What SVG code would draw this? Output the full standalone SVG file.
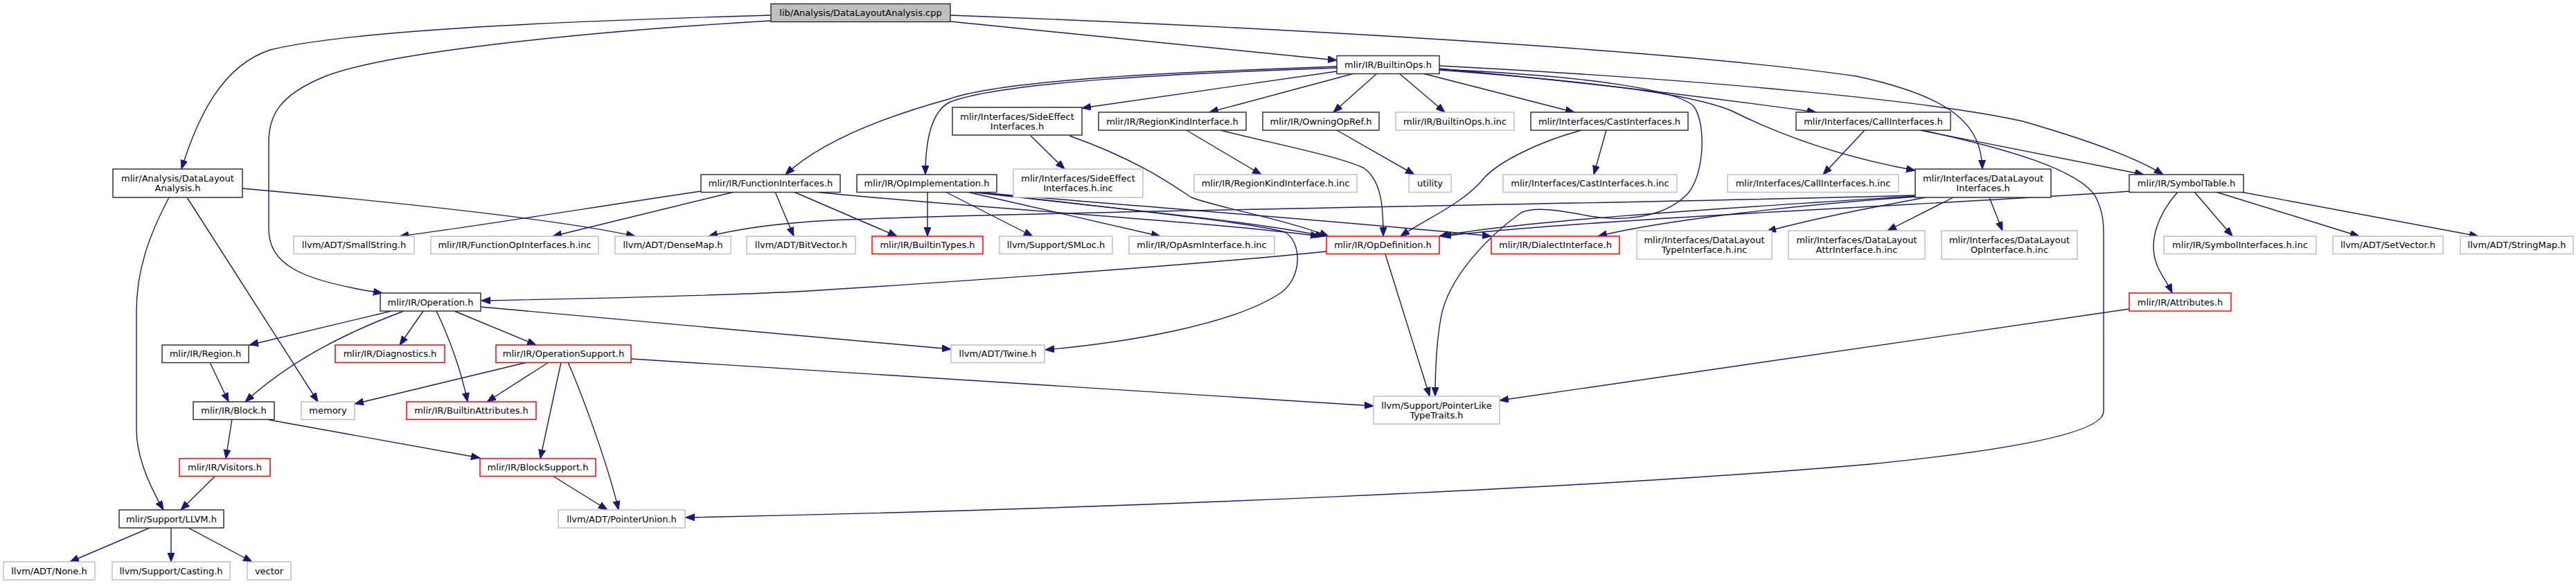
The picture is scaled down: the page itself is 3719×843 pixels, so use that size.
<svg xmlns="http://www.w3.org/2000/svg" width="3719" height="843" viewBox="0 0 3719 843">
<style>
text{font-family:"DejaVu Sans","Liberation Sans",sans-serif;font-size:13px;fill:#000;text-anchor:middle}
.k{fill:#fff;stroke:#333;stroke-width:1.5}
.g{fill:#fff;stroke:#bfbfbf;stroke-width:1.5}
.r{fill:#fff;stroke:#ff0000;stroke-width:1.5}
.root{fill:#bfbfbf;stroke:#333;stroke-width:1.5}
.e{fill:none;stroke:#191970;stroke-width:1.4;marker-end:url(#a)}
</style>
<defs>
<marker id="a" markerWidth="14" markerHeight="12" refX="13" refY="5" orient="auto" markerUnits="userSpaceOnUse"><path d="M0,0 L13,5 L0,10 z" fill="#191970" stroke="#191970" stroke-width="1"/></marker>
</defs>
<rect x="0" y="0" width="3719" height="843" fill="#fff"/>
<g id="edges">
<path class="e" d="M1113,22 C900,28 520,40 390,72 C320,95 285,170 262,244"/>
<path class="e" d="M1113,30 C850,45 560,75 470,110 C400,138 388,170 388,205 L388,330 C388,380 430,405 552,423"/>
<path class="e" d="M1372,31 L1930,87"/>
<path class="e" d="M1372,22 C1800,38 2400,70 2680,110 C2820,140 2860,180 2862,244"/>
<path class="e" d="M350,272 C550,290 800,315 917,341"/>
<path class="e" d="M270,285 L459,580"/>
<path class="e" d="M244,285 C215,340 197,390 197,450 L197,620 C197,660 215,700 236,736"/>
<path class="e" d="M1930,96 C1700,104 1450,115 1370,143 C1290,165 1190,200 1134,252"/>
<path class="e" d="M1930,98 C1700,106 1450,118 1372,147 C1345,160 1336,200 1336,252"/>
<path class="e" d="M1930,103 L1562,156"/>
<path class="e" d="M1955,106 L1746,162"/>
<path class="e" d="M1988,106 L1925,162"/>
<path class="e" d="M2020,106 L2086,162"/>
<path class="e" d="M2054,106 L2273,162"/>
<path class="e" d="M2078,99 C2300,120 2500,145 2622,162"/>
<path class="e" d="M2078,101 C2300,118 2440,135 2500,160 C2560,190 2650,225 2765,246"/>
<path class="e" d="M2078,95 C2500,117 2800,148 2920,175 C3000,198 3080,225 3123,252"/>
<path class="e" d="M2078,100 C2300,110 2420,130 2445,153 C2465,180 2460,260 2433,283 C2400,315 2340,320 2295,312 C2250,303 2215,298 2196,307 C2150,340 2090,400 2080,460 C2073,500 2072,540 2072,572"/>
<path class="e" d="M2000,367 L2064,572"/>
<path class="e" d="M1915,363 C1700,385 1300,412 1150,421 C1000,428 800,432 695,434"/>
<path class="e" d="M1012,276 C850,300 700,325 577,341"/>
<path class="e" d="M1060,277 L798,341"/>
<path class="e" d="M1119,277 L1146,341"/>
<path class="e" d="M1146,277 L1295,341"/>
<path class="e" d="M1176,277 C1400,300 1750,320 1905,341"/>
<path class="e" d="M1339,277 L1339,341"/>
<path class="e" d="M1365,277 L1491,341"/>
<path class="e" d="M1396,277 L1675,341"/>
<path class="e" d="M1400,277 C1600,300 1800,318 1912,341"/>
<path class="e" d="M1405,277 C1600,295 1950,320 2153,341"/>
<path class="e" d="M1408,277 C1600,300 1800,320 1855,335 C1880,350 1880,400 1850,422 C1780,470 1620,495 1509,505"/>
<path class="e" d="M1544,196 C1640,230 1690,265 1720,285 C1760,300 1850,315 1918,341"/>
<path class="e" d="M1488,196 L1537,244"/>
<path class="e" d="M1713,188 L1821,252"/>
<path class="e" d="M1762,188 C1850,210 1930,225 1968,242 C1995,260 1997,300 1997,341"/>
<path class="e" d="M1930,188 L2042,252"/>
<path class="e" d="M2283,188 C2220,205 2160,235 2140,260 C2110,295 2060,315 2022,341"/>
<path class="e" d="M2319,188 L2301,252"/>
<path class="e" d="M2692,188 L2632,252"/>
<path class="e" d="M2772,188 L3095,252"/>
<path class="e" d="M2775,188 C2900,215 3000,245 3025,283 C3036,305 3037,320 3037,340 L3037,594 C3037,625 2900,650 2700,670 C2300,705 1600,735 990,747"/>
<path class="e" d="M2780,285 C2700,300 2620,315 2551,334"/>
<path class="e" d="M2820,285 L2725,333"/>
<path class="e" d="M2872,285 L2891,333"/>
<path class="e" d="M2766,283 C2500,300 2200,318 2078,341"/>
<path class="e" d="M2766,284 C2600,295 2400,318 2307,341"/>
<path class="e" d="M2766,282 C2300,295 1500,305 1200,318 C1120,322 1060,332 1023,341"/>
<path class="e" d="M3074,276 C2900,290 2300,315 2082,341"/>
<path class="e" d="M3168,277 L3223,341"/>
<path class="e" d="M3199,277 L3406,341"/>
<path class="e" d="M3235,277 L3578,341"/>
<path class="e" d="M3144,277 C3115,310 3100,350 3115,385 C3122,400 3130,410 3136,423"/>
<path class="e" d="M3074,446 L2165,578"/>
<path class="e" d="M565,449 L360,498"/>
<path class="e" d="M583,449 C500,480 420,520 354,580"/>
<path class="e" d="M611,449 L577,498"/>
<path class="e" d="M630,449 C645,480 665,530 675,580"/>
<path class="e" d="M656,449 L774,498"/>
<path class="e" d="M694,443 L1373,504"/>
<path class="e" d="M303,523 L330,580"/>
<path class="e" d="M335,605 L326,662"/>
<path class="e" d="M388,606 L693,661"/>
<path class="e" d="M761,523 L512,583"/>
<path class="e" d="M792,523 L703,580"/>
<path class="e" d="M810,523 L780,662"/>
<path class="e" d="M820,523 C845,580 880,680 893,736"/>
<path class="e" d="M911,518 L1983,586"/>
<path class="e" d="M311,687 L261,736"/>
<path class="e" d="M798,687 L877,736"/>
<path class="e" d="M216,762 L101,811"/>
<path class="e" d="M247,762 L247,811"/>
<path class="e" d="M272,762 L364,811"/>
</g>
<g id="n1"><rect class="root" x="1113" y="5.5" width="259" height="26"/><text x="1242.5" y="23">lib/Analysis/DataLayoutAnalysis.cpp</text></g>
<g id="n2"><rect class="k" x="163" y="244" width="187" height="41"/><text x="256.5" y="261.5">mlir/Analysis/DataLayout</text><text x="256.5" y="275.5">Analysis.h</text></g>
<g id="n3"><rect class="k" x="1930" y="80.5" width="148" height="26"/><text x="2004" y="98">mlir/IR/BuiltinOps.h</text></g>
<g id="n4"><rect class="k" x="1375" y="155" width="187" height="40"/><text x="1468.5" y="172.5">mlir/Interfaces/SideEffect</text><text x="1468.5" y="186.5">Interfaces.h</text></g>
<g id="n5"><rect class="k" x="1586" y="162" width="213" height="26"/><text x="1692.5" y="179.6">mlir/IR/RegionKindInterface.h</text></g>
<g id="n6"><rect class="k" x="1823" y="162" width="168" height="26"/><text x="1907" y="179.6">mlir/IR/OwningOpRef.h</text></g>
<g id="n7"><rect class="g" x="2015" y="162" width="171" height="26"/><text x="2100.5" y="179.6">mlir/IR/BuiltinOps.h.inc</text></g>
<g id="n8"><rect class="k" x="2210" y="162" width="227" height="26"/><text x="2323.5" y="179.6">mlir/Interfaces/CastInterfaces.h</text></g>
<g id="n9"><rect class="k" x="2593" y="162" width="223" height="26"/><text x="2704.5" y="179.6">mlir/Interfaces/CallInterfaces.h</text></g>
<g id="n10"><rect class="k" x="1012" y="252" width="201" height="25.5"/><text x="1112.5" y="269">mlir/IR/FunctionInterfaces.h</text></g>
<g id="n11"><rect class="k" x="1237" y="252" width="202" height="25.5"/><text x="1338" y="269">mlir/IR/OpImplementation.h</text></g>
<g id="n12"><rect class="g" x="1463" y="244" width="187" height="41"/><text x="1556.5" y="261.5">mlir/Interfaces/SideEffect</text><text x="1556.5" y="275.5">Interfaces.h.inc</text></g>
<g id="n13"><rect class="g" x="1724" y="252" width="235" height="25.5"/><text x="1841.5" y="269">mlir/IR/RegionKindInterface.h.inc</text></g>
<g id="n14"><rect class="g" x="2034" y="252" width="61" height="25.5"/><text x="2064.5" y="269">utility</text></g>
<g id="n15"><rect class="g" x="2170" y="252" width="251" height="25.5"/><text x="2295.5" y="269">mlir/Interfaces/CastInterfaces.h.inc</text></g>
<g id="n16"><rect class="g" x="2494" y="252" width="247" height="25.5"/><text x="2617.5" y="269">mlir/Interfaces/CallInterfaces.h.inc</text></g>
<g id="n17"><rect class="k" x="2765" y="244" width="196" height="41"/><text x="2863" y="261.5">mlir/Interfaces/DataLayout</text><text x="2863" y="275.5">Interfaces.h</text></g>
<g id="n18"><rect class="k" x="3074" y="252" width="165" height="25.5"/><text x="3156.5" y="269">mlir/IR/SymbolTable.h</text></g>
<g id="n19"><rect class="g" x="424" y="341" width="174" height="25.5"/><text x="511" y="358">llvm/ADT/SmallString.h</text></g>
<g id="n20"><rect class="g" x="622" y="341" width="242" height="25.5"/><text x="743" y="358">mlir/IR/FunctionOpInterfaces.h.inc</text></g>
<g id="n21"><rect class="g" x="888" y="341" width="167" height="25.5"/><text x="971.5" y="358">llvm/ADT/DenseMap.h</text></g>
<g id="n22"><rect class="g" x="1078" y="341" width="157" height="25.5"/><text x="1156.5" y="358">llvm/ADT/BitVector.h</text></g>
<g id="n23"><rect class="r" x="1259" y="341" width="160" height="25.5"/><text x="1339" y="358">mlir/IR/BuiltinTypes.h</text></g>
<g id="n24"><rect class="g" x="1443" y="341" width="163" height="25.5"/><text x="1524.5" y="358">llvm/Support/SMLoc.h</text></g>
<g id="n25"><rect class="g" x="1630" y="341" width="210" height="25.5"/><text x="1735" y="358">mlir/IR/OpAsmInterface.h.inc</text></g>
<g id="n26"><rect class="r" x="1915" y="341" width="163" height="25.5"/><text x="1996.5" y="358">mlir/IR/OpDefinition.h</text></g>
<g id="n27"><rect class="r" x="2153" y="341" width="185" height="25.5"/><text x="2245.5" y="358">mlir/IR/DialectInterface.h</text></g>
<g id="n28"><rect class="g" x="2363" y="333" width="195" height="41"/><text x="2460.5" y="350.5">mlir/Interfaces/DataLayout</text><text x="2460.5" y="364.5">TypeInterface.h.inc</text></g>
<g id="n29"><rect class="g" x="2582" y="333" width="197" height="41"/><text x="2680.5" y="350.5">mlir/Interfaces/DataLayout</text><text x="2680.5" y="364.5">AttrInterface.h.inc</text></g>
<g id="n30"><rect class="g" x="2803" y="333" width="196" height="41"/><text x="2901" y="350.5">mlir/Interfaces/DataLayout</text><text x="2901" y="364.5">OpInterface.h.inc</text></g>
<g id="n31"><rect class="g" x="3124" y="341" width="220" height="25.5"/><text x="3234" y="358">mlir/IR/SymbolInterfaces.h.inc</text></g>
<g id="n32"><rect class="g" x="3368" y="341" width="159" height="25.5"/><text x="3447.5" y="358">llvm/ADT/SetVector.h</text></g>
<g id="n33"><rect class="g" x="3552" y="341" width="163" height="25.5"/><text x="3633.5" y="358">llvm/ADT/StringMap.h</text></g>
<g id="n34"><rect class="k" x="549" y="423" width="145" height="26"/><text x="621.5" y="440.5">mlir/IR/Operation.h</text></g>
<g id="n35"><rect class="r" x="3074" y="423" width="147" height="26"/><text x="3147.5" y="440.5">mlir/IR/Attributes.h</text></g>
<g id="n36"><rect class="k" x="234" y="498" width="125" height="25.5"/><text x="296.5" y="515">mlir/IR/Region.h</text></g>
<g id="n37"><rect class="r" x="484" y="498" width="158" height="25.5"/><text x="563" y="515">mlir/IR/Diagnostics.h</text></g>
<g id="n38"><rect class="r" x="716" y="498" width="195" height="25.5"/><text x="813.5" y="515">mlir/IR/OperationSupport.h</text></g>
<g id="n39"><rect class="g" x="1373" y="498" width="135" height="25.5"/><text x="1440.5" y="515">llvm/ADT/Twine.h</text></g>
<g id="n40"><rect class="k" x="279" y="580" width="117" height="25.5"/><text x="337.5" y="597">mlir/IR/Block.h</text></g>
<g id="n41"><rect class="g" x="435" y="580" width="77" height="25.5"/><text x="473.5" y="597">memory</text></g>
<g id="n42"><rect class="r" x="587" y="580" width="187" height="25.5"/><text x="680.5" y="597">mlir/IR/BuiltinAttributes.h</text></g>
<g id="n43"><rect class="g" x="1983" y="572" width="182" height="40"/><text x="2074" y="589.5">llvm/Support/PointerLike</text><text x="2074" y="603.5">TypeTraits.h</text></g>
<g id="n44"><rect class="r" x="259" y="662" width="131" height="25.5"/><text x="324.5" y="679">mlir/IR/Visitors.h</text></g>
<g id="n45"><rect class="r" x="693" y="662" width="167" height="25.5"/><text x="776.5" y="679">mlir/IR/BlockSupport.h</text></g>
<g id="n46"><rect class="k" x="172" y="736" width="151" height="26"/><text x="247.5" y="753.5">mlir/Support/LLVM.h</text></g>
<g id="n47"><rect class="g" x="806" y="736" width="183" height="26"/><text x="897.5" y="753.5">llvm/ADT/PointerUnion.h</text></g>
<g id="n48"><rect class="g" x="5" y="811" width="132" height="26"/><text x="71" y="828.5">llvm/ADT/None.h</text></g>
<g id="n49"><rect class="g" x="162" y="811" width="170" height="26"/><text x="247" y="828.5">llvm/Support/Casting.h</text></g>
<g id="n50"><rect class="g" x="357" y="811" width="63" height="26"/><text x="388.5" y="828.5">vector</text></g>
</svg>
